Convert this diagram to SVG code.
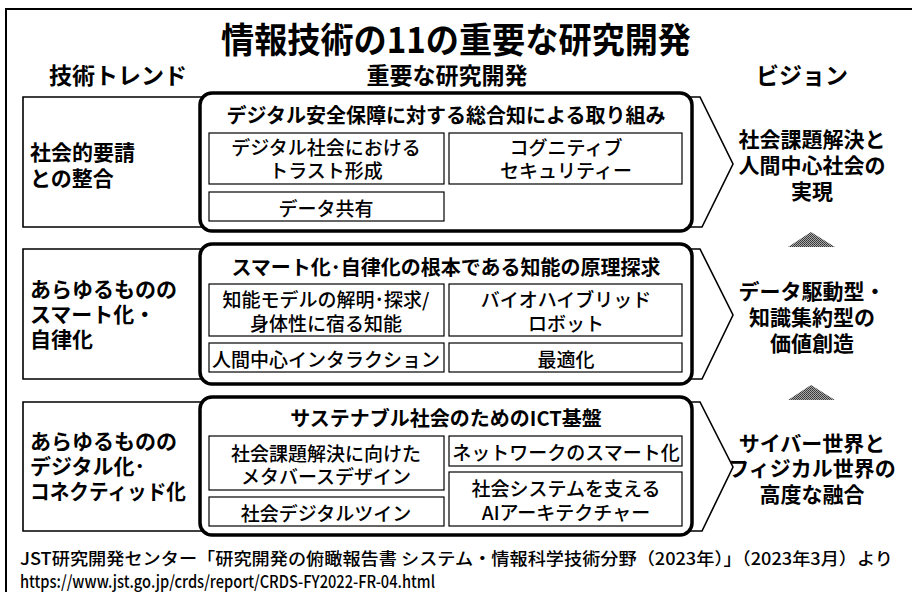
<svg xmlns="http://www.w3.org/2000/svg" width="912" height="592" viewBox="0 0 912 592">
<style>
text{font-family:"Noto Sans CJK JP","Noto Sans",sans-serif;fill:#000;}
.t{font-size:35px;font-weight:700;}
.h{font-size:23px;font-weight:700;}
.lt{font-size:21px;font-weight:700;}
.bt{font-size:20px;font-weight:700;}
.st{font-size:19px;font-weight:500;}
.vt{font-size:21px;font-weight:700;}
.ft{font-size:17px;font-weight:500;}
.frame{fill:#fff;stroke:#000;stroke-width:2;}
.chev{fill:#fff;stroke:#000;stroke-width:1.6;}
.bold{fill:#fff;stroke:#000;stroke-width:3.5;}
.sub{fill:#fff;stroke:#000;stroke-width:1.2;}
.up{fill:url(#dots);stroke:none;}
</style>
<defs>
<pattern id="dots" width="2" height="2" patternUnits="userSpaceOnUse">
<rect width="2" height="2" fill="#aaa"/>
<rect width="1" height="1" fill="#333"/>
<rect x="1" y="1" width="1" height="1" fill="#444"/>
</pattern>
</defs>
<rect x="0" y="0" width="912" height="592" fill="#fff"/>
<rect class="frame" x="6" y="9" width="920" height="600"/>

<g id="header">
<text class="t" x="456" y="37" text-anchor="middle" dominant-baseline="central" textLength="470" lengthAdjust="spacingAndGlyphs">情報技術の11の重要な研究開発</text>
<text class="h" x="118" y="74" text-anchor="middle" dominant-baseline="central">技術トレンド</text>
<text class="h" x="447" y="74" text-anchor="middle" dominant-baseline="central">重要な研究開発</text>
<text class="h" x="802" y="74" text-anchor="middle" dominant-baseline="central">ビジョン</text>
</g>

<g id="connectors">
<polygon class="up" points="811,232 835,247 788,247"/>
<polygon class="up" points="811,385 835,400 788,400"/>
</g>

<g id="band1">
<polygon class="chev" points="23,97 700,97 733,164 702,227 23,227"/>
<text class="lt" x="30" y="151" dominant-baseline="central">社会的要請</text>
<text class="lt" x="30" y="177" dominant-baseline="central">との整合</text>
<rect class="bold" x="200" y="93" width="492" height="138" rx="12"/>
<text class="bt" x="446" y="114" text-anchor="middle" dominant-baseline="central">デジタル安全保障に対する総合知による取り組み</text>
<rect class="sub" x="209" y="133" width="235" height="51"/>
<text class="st" x="326" y="146" text-anchor="middle" dominant-baseline="central">デジタル社会における</text>
<text class="st" x="326" y="169" text-anchor="middle" dominant-baseline="central">トラスト形成</text>
<rect class="sub" x="449" y="133" width="233" height="51"/>
<text class="st" x="566" y="146" text-anchor="middle" dominant-baseline="central">コグニティブ</text>
<text class="st" x="566" y="169" text-anchor="middle" dominant-baseline="central">セキュリティー</text>
<rect class="sub" x="209" y="192" width="235" height="29"/>
<text class="st" x="326" y="207" text-anchor="middle" dominant-baseline="central">データ共有</text>
<text class="vt" x="812" y="138" text-anchor="middle" dominant-baseline="central">社会課題解決と</text>
<text class="vt" x="812" y="164" text-anchor="middle" dominant-baseline="central">人間中心社会の</text>
<text class="vt" x="812" y="190" text-anchor="middle" dominant-baseline="central">実現</text>
</g>

<g id="band2">
<polygon class="chev" points="23,249 700,249 733,315 702,379 23,379"/>
<text class="lt" x="30" y="288" dominant-baseline="central">あらゆるものの</text>
<text class="lt" x="30" y="313" dominant-baseline="central">スマート化・</text>
<text class="lt" x="30" y="338" dominant-baseline="central">自律化</text>
<rect class="bold" x="200" y="244" width="492" height="140" rx="12"/>
<text class="bt" x="446" y="266" text-anchor="middle" dominant-baseline="central">スマート化･自律化の根本である知能の原理探求</text>
<rect class="sub" x="209" y="284" width="235" height="52"/>
<text class="st" x="326" y="298" text-anchor="middle" dominant-baseline="central">知能モデルの解明･探求/</text>
<text class="st" x="326" y="322" text-anchor="middle" dominant-baseline="central">身体性に宿る知能</text>
<rect class="sub" x="449" y="284" width="233" height="52"/>
<text class="st" x="566" y="298" text-anchor="middle" dominant-baseline="central">バイオハイブリッド</text>
<text class="st" x="566" y="322" text-anchor="middle" dominant-baseline="central">ロボット</text>
<rect class="sub" x="209" y="343" width="235" height="29"/>
<text class="st" x="326" y="358" text-anchor="middle" dominant-baseline="central">人間中心インタラクション</text>
<rect class="sub" x="449" y="343" width="233" height="29"/>
<text class="st" x="566" y="358" text-anchor="middle" dominant-baseline="central">最適化</text>
<text class="vt" x="812" y="290" text-anchor="middle" dominant-baseline="central">データ駆動型・</text>
<text class="vt" x="812" y="316" text-anchor="middle" dominant-baseline="central">知識集約型の</text>
<text class="vt" x="812" y="342" text-anchor="middle" dominant-baseline="central">価値創造</text>
</g>

<g id="band3">
<polygon class="chev" points="23,402 700,402 733,467 702,531 23,531"/>
<text class="lt" x="30" y="440" dominant-baseline="central">あらゆるものの</text>
<text class="lt" x="30" y="465" dominant-baseline="central">デジタル化･</text>
<text class="lt" x="30" y="490" dominant-baseline="central" textLength="156" lengthAdjust="spacingAndGlyphs">コネクティッド化</text>
<rect class="bold" x="200" y="397" width="492" height="138" rx="12"/>
<text class="bt" x="446" y="417" text-anchor="middle" dominant-baseline="central">サステナブル社会のためのICT基盤</text>
<rect class="sub" x="209" y="436" width="235" height="54"/>
<text class="st" x="326" y="452" text-anchor="middle" dominant-baseline="central">社会課題解決に向けた</text>
<text class="st" x="326" y="475" text-anchor="middle" dominant-baseline="central">メタバースデザイン</text>
<rect class="sub" x="209" y="497" width="235" height="29"/>
<text class="st" x="326" y="512" text-anchor="middle" dominant-baseline="central">社会デジタルツイン</text>
<rect class="sub" x="449" y="436" width="233" height="30"/>
<text class="st" x="566" y="451" text-anchor="middle" dominant-baseline="central">ネットワークのスマート化</text>
<rect class="sub" x="449" y="472" width="233" height="54"/>
<text class="st" x="566" y="487" text-anchor="middle" dominant-baseline="central">社会システムを支える</text>
<text class="st" x="566" y="511" text-anchor="middle" dominant-baseline="central">AIアーキテクチャー</text>
<text class="vt" x="812" y="442" text-anchor="middle" dominant-baseline="central">サイバー世界と</text>
<text class="vt" x="812" y="467" text-anchor="middle" dominant-baseline="central">フィジカル世界の</text>
<text class="vt" x="812" y="493" text-anchor="middle" dominant-baseline="central">高度な融合</text>
</g>

<g id="footer">
<text class="ft" x="20" y="557" dominant-baseline="central" textLength="873" lengthAdjust="spacingAndGlyphs">JST研究開発センター「研究開発の俯瞰報告書 システム・情報科学技術分野（2023年）」（2023年3月）より</text>
<text class="ft" x="20" y="580" dominant-baseline="central" textLength="415" lengthAdjust="spacingAndGlyphs">https://www.jst.go.jp/crds/report/CRDS-FY2022-FR-04.html</text>
</g>
</svg>
